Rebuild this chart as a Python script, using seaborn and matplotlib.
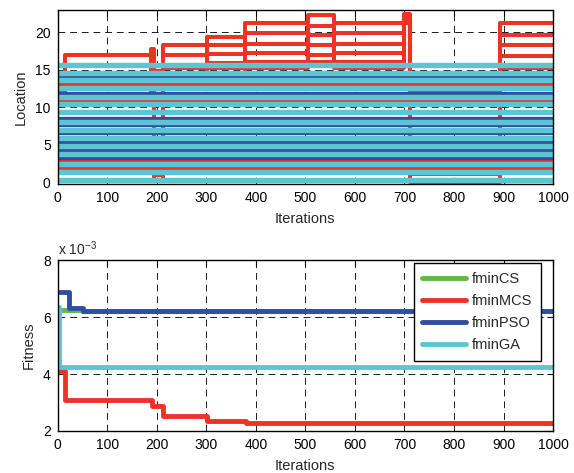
import numpy as np
import pandas as pd
import matplotlib
matplotlib.use("Agg")
import matplotlib.pyplot as plt
from matplotlib.lines import Line2D
from matplotlib.ticker import FuncFormatter, MultipleLocator
import seaborn as sns

sns.set_theme(style="white")
plt.rcParams["font.family"] = ["Liberation Sans", "DejaVu Sans"]
plt.rcParams["mathtext.default"] = "regular"

# ---------------- data: top panel (locations) ----------------
# MCS change iterations (step knots) and per-dimension levels per segment
mcs_x = [0, 15, 188, 194, 213, 302, 378, 505, 558, 700, 712, 893, 1000]
mcs_r1 = [11.9, 16.98, 17.8, 14.9, 18.3, 19.4, 21.3, 22.3, 21.3, 22.4, 0.05, 21.2]
mcs_r2 = [11.9, 14.2, 17.6, 0.3, 17.0, 18.3, 19.9, 20.9, 19.9, 22.2, 1.1, 19.7]
mcs_r3 = [12.99, 12.99, 17.3, 1.0, 15.6, 17.1, 18.5, 19.6, 18.5, 22.0, 3.1, 18.3]
mcs_r4 = [12.99, 12.99, 16.5, 13.5, 15.2, 15.9, 17.3, 18.3, 17.3, 21.8, 11.9, 16.9]
mcs_r5 = [10.87, 10.87, 13.0, 12.99, 12.99, 15.2, 16.1, 17.0, 16.1, 21.6, 11.9, 15.5]
mcs_r6 = [12.99, 12.99, 12.99, 12.99, 12.99, 12.99, 15.2, 16.0, 15.2, 21.2, 11.9, 15.2]
mcs_r7 = [10.87] * 12
mcs_r8 = [2.99] * 12
mcs_r9 = [1.95] * 12
mcs_r10 = [12.99] * 12
mcs_dims = [mcs_r1, mcs_r2, mcs_r3, mcs_r4, mcs_r5, mcs_r6, mcs_r7, mcs_r8, mcs_r9, mcs_r10]

pso_x = [0, 1000]
pso_levels = [14.19, 11.89, 8.64, 7.67, 6.57, 5.45, 4.35, 3.24]

ga_x = [0, 1000]
ga_levels = [15.65, 14.59, 13.66, 12.55, 11.35, 10.42, 9.36, 8.11, 7.05,
             5.99, 4.84, 3.82, 2.53, 1.46, 0.36]

# ---------------- data: bottom panel (fitness) ----------------
cs_it = [0, 50, 1000]
cs_fit = [6.25e-3, 6.22e-3, 6.22e-3]
mcs_it = [0, 15, 190, 213, 302, 380, 1000]
mcs_fit = [4.10e-3, 3.08e-3, 2.88e-3, 2.54e-3, 2.36e-3, 2.27e-3, 2.27e-3]
pso_it = [0, 22, 51, 1000]
pso_fit = [6.88e-3, 6.33e-3, 6.21e-3, 6.21e-3]
ga_it = [0, 2, 1000]
ga_fit = [6.36e-3, 4.26e-3, 4.26e-3]

labels = ["fminCS", "fminMCS", "fminPSO", "fminGA"]
colors = {"fminCS": "#62b848", "fminMCS": "#ef3226",
          "fminPSO": "#2f4f9f", "fminGA": "#5bc6d1"}

# ---------------- build tables ----------------
rows = []
for d, vals in enumerate(mcs_dims):
    v = list(vals) + [vals[-1]]
    for x, y in zip(mcs_x, v):
        rows.append((x, y, d))
top_mcs = pd.DataFrame(rows, columns=["it", "loc", "dim"])

rows = []
for d, lev in enumerate(pso_levels):
    for x in pso_x:
        rows.append((x, lev, d))
top_pso = pd.DataFrame(rows, columns=["it", "loc", "dim"])

rows = []
for d, lev in enumerate(ga_levels):
    for x in ga_x:
        rows.append((x, lev, d))
top_ga = pd.DataFrame(rows, columns=["it", "loc", "dim"])

rows = []
for lab, xs, ys in zip(labels, [cs_it, mcs_it, pso_it, ga_it],
                       [cs_fit, mcs_fit, pso_fit, ga_fit]):
    for x, y in zip(xs, ys):
        rows.append((lab, x, y))
fit = pd.DataFrame(rows, columns=["alg", "it", "fit"])

# ---------------- figure ----------------
fig = plt.figure(figsize=(5.74, 4.73), dpi=100)
ax1 = fig.add_axes([0.1005, 0.611, 0.863, 0.368])
ax2 = fig.add_axes([0.1005, 0.0888, 0.863, 0.3615])

grid_kw = dict(color="#1a1a1a", linewidth=0.7, linestyle=(0, (7, 5)))

def style(ax):
    ax.set_axisbelow(True)
    ax.grid(True, **grid_kw)
    for s in ax.spines.values():
        s.set_color("black")
        s.set_linewidth(1.0)
        s.set_visible(True)
    ax.tick_params(direction="in", length=4, width=0.8, top=True, right=True,
                   labelsize=10, pad=5, colors="black")
    ax.set_xlim(0, 1000)
    ax.xaxis.set_major_locator(MultipleLocator(100))

# top panel
sns.lineplot(data=top_mcs, x="it", y="loc", units="dim", estimator=None,
             color=colors["fminMCS"], linewidth=2.9, drawstyle="steps-post",
             legend=False, ax=ax1)
sns.lineplot(data=top_pso, x="it", y="loc", units="dim", estimator=None,
             color=colors["fminPSO"], linewidth=2.4, legend=False, ax=ax1)
sns.lineplot(data=top_ga, x="it", y="loc", units="dim", estimator=None,
             color=colors["fminGA"], linewidth=3.9, legend=False, ax=ax1)
style(ax1)
ax1.set_ylim(-0.2, 23)
ax1.set_yticks([0, 5, 10, 15, 20])
ax1.set_xlabel("Iterations", fontsize=10.5, labelpad=5)
ax1.set_ylabel("Location", fontsize=10.5, labelpad=5)

# bottom panel
sns.lineplot(data=fit, x="it", y="fit", hue="alg", hue_order=labels,
             palette=colors, units="alg", estimator=None, linewidth=3.5,
             drawstyle="steps-post", legend=False, ax=ax2)
style(ax2)
ax2.set_ylim(2e-3, 8e-3)
ax2.set_yticks([2e-3, 4e-3, 6e-3, 8e-3])
ax2.yaxis.set_major_formatter(FuncFormatter(lambda v, p: f"{v*1000:g}"))
ax2.set_xlabel("Iterations", fontsize=10.5, labelpad=5)
ax2.set_ylabel("Fitness", fontsize=10.5, labelpad=5)
ax2.text(0.0, 1.01, "x 10$^{-3}$", transform=ax2.transAxes, fontsize=10,
         ha="left", va="bottom")

handles = [Line2D([], [], color=colors[l], linewidth=3.5) for l in labels]
leg = ax2.legend(handles, labels, loc="upper right",
                 bbox_to_anchor=(0.976, 0.982), borderaxespad=0,
                 fontsize=10.5, handlelength=3.0, labelspacing=0.55,
                 handletextpad=0.4, borderpad=0.6, fancybox=False,
                 framealpha=1.0, edgecolor="black")
leg.get_frame().set_linewidth(1.0)

fig.savefig("out.png", dpi=100)
